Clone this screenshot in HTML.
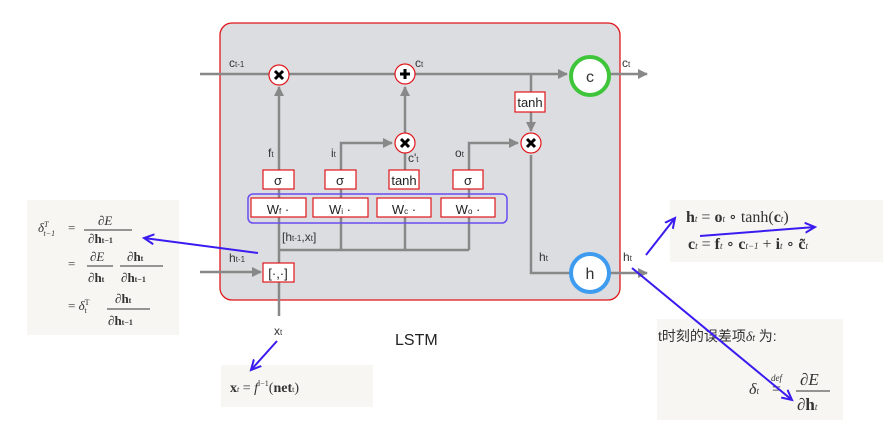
<!DOCTYPE html>
<html><head><meta charset="utf-8"><style>
html,body{margin:0;padding:0;background:#fff;}
svg{display:block;}
text{font-family:"Liberation Sans","Noto Sans CJK SC",sans-serif;}
.m text{font-family:"Liberation Serif","DejaVu Serif",serif;fill:#333;}
</style></head><body>
<svg width="896" height="443" viewBox="0 0 896 443" xmlns="http://www.w3.org/2000/svg">
<defs>
<marker id="ag" markerWidth="10" markerHeight="10" refX="9" refY="5" orient="auto" markerUnits="userSpaceOnUse"><path d="M0,0 L10,5 L0,10 z" fill="#888"/></marker>
<marker id="ap" markerWidth="12" markerHeight="12" refX="10" refY="6" orient="auto" markerUnits="userSpaceOnUse"><path d="M0,1 L10,6 L0,11" fill="none" stroke="#3a1cf0" stroke-width="2"/></marker>
</defs>
<rect x="27" y="200" width="152" height="135" fill="#f7f6f2"/>
<rect x="670" y="200" width="213" height="62" fill="#f7f6f2"/>
<rect x="657" y="319" width="186" height="101" fill="#f7f6f2"/>
<rect x="221" y="365" width="152" height="42" fill="#f7f6f2"/>
<rect x="220" y="23" width="400" height="277" rx="12" fill="#dcdde0" stroke="#e0161b" stroke-width="1.3"/>
<g stroke="#888" stroke-width="2.5" fill="none">
<line x1="200" y1="74" x2="567" y2="74" marker-end="url(#ag)"/>
<line x1="609" y1="74" x2="647" y2="74" marker-end="url(#ag)"/>
<line x1="531" y1="74" x2="531" y2="92"/>
<line x1="531" y1="112" x2="531" y2="131" marker-end="url(#ag)"/>
<line x1="279" y1="316" x2="279" y2="87" marker-end="url(#ag)"/>
<line x1="405" y1="170" x2="405" y2="87" marker-end="url(#ag)"/>
<polyline points="341,250 341,143 392,143" marker-end="url(#ag)"/>
<polyline points="469,250 469,143 518,143" marker-end="url(#ag)"/>
<polyline points="279,250 469,250"/>
<line x1="405" y1="250" x2="405" y2="217"/>
<line x1="200" y1="272" x2="261" y2="272" marker-end="url(#ag)"/>
<polyline points="531,155 531,273 572,273"/>
<line x1="609" y1="273" x2="647" y2="273" marker-end="url(#ag)"/>
</g>
<g fill="#fff" stroke="#e0161b" stroke-width="1.2">
<circle cx="279" cy="75" r="10"/><circle cx="405" cy="74" r="10"/>
<circle cx="405" cy="143" r="10"/><circle cx="531" cy="143" r="10"/>
</g>
<g stroke="#000" stroke-width="3">
<path d="M275,71 l8,8 M283,71 l-8,8"/>
<path d="M401,139 l8,8 M409,139 l-8,8"/>
<path d="M527,139 l8,8 M535,139 l-8,8"/>
<path d="M405,69 v10 M400,74 h10"/>
</g>
<circle cx="590" cy="76" r="19" fill="#fff" stroke="#3fc53a" stroke-width="4"/>
<circle cx="590" cy="273" r="19" fill="#fff" stroke="#3d9bf0" stroke-width="4"/>
<text x="590" y="82" font-size="16" text-anchor="middle" fill="#333">c</text>
<text x="590" y="279" font-size="16" text-anchor="middle" fill="#333">h</text>
<rect x="248" y="194" width="259" height="29" rx="5" fill="none" stroke="#6a4cf0" stroke-width="1.5"/>
<g fill="#fff" stroke="#e0161b" stroke-width="1.2">
<rect x="515" y="92" width="30" height="20"/>
<rect x="263" y="170" width="31" height="19"/><rect x="325" y="170" width="31" height="19"/>
<rect x="389" y="170" width="30" height="19"/><rect x="453" y="170" width="30" height="19"/>
<rect x="251" y="198" width="55" height="19"/><rect x="313" y="198" width="55" height="19"/>
<rect x="377" y="198" width="54" height="19"/><rect x="441" y="198" width="54" height="19"/>
<rect x="263" y="263" width="31" height="19"/>
</g>
<g font-size="13" fill="#222" text-anchor="middle">
<text x="530" y="107">tanh</text>
<text x="278" y="185">σ</text><text x="340" y="185">σ</text>
<text x="404" y="185">tanh</text><text x="468" y="185">σ</text>
<text x="278" y="214">W<tspan font-size="8">f</tspan> ·</text>
<text x="340" y="214">W<tspan font-size="8">i</tspan> ·</text>
<text x="404" y="214">W<tspan font-size="8">c</tspan> ·</text>
<text x="468" y="214">W<tspan font-size="8">o</tspan> ·</text>
<text x="278" y="278">[·,·]</text>
</g>
<g font-size="12" fill="#333">
<text x="229" y="67">c<tspan font-size="8">t-1</tspan></text>
<text x="415" y="67">c<tspan font-size="8">t</tspan></text>
<text x="622" y="67">c<tspan font-size="8">t</tspan></text>
<text x="268" y="157">f<tspan font-size="8">t</tspan></text>
<text x="331" y="157">i<tspan font-size="8">t</tspan></text>
<text x="408" y="162">c'<tspan font-size="8">t</tspan></text>
<text x="455" y="157">o<tspan font-size="8">t</tspan></text>
<text x="282" y="241">[h<tspan font-size="8">t-1</tspan>,x<tspan font-size="8">t</tspan>]</text>
<text x="229" y="262">h<tspan font-size="8">t-1</tspan></text>
<text x="539" y="261">h<tspan font-size="8">t</tspan></text>
<text x="623" y="261">h<tspan font-size="8">t</tspan></text>
<text x="274" y="335">x<tspan font-size="8">t</tspan></text>
</g>
<text x="395" y="345" font-size="16" fill="#222">LSTM</text>
<g class="m" font-size="13">
<text x="38" y="232" font-style="italic">δ<tspan font-size="8" dy="-5">T</tspan><tspan font-size="8" dx="-5" dy="9">t−1</tspan></text>
<text x="68" y="232">=</text>
<text x="98" y="225" font-style="italic">∂E</text><line x1="84" y1="230" x2="132" y2="230" stroke="#333"/>
<text x="88" y="243">∂<tspan font-weight="bold">h</tspan><tspan font-size="8" font-weight="bold">t−1</tspan></text>
<text x="68" y="268">=</text>
<text x="90" y="261" font-style="italic">∂E</text><line x1="87" y1="266" x2="113" y2="266" stroke="#333"/>
<text x="88" y="282">∂<tspan font-weight="bold">h</tspan><tspan font-size="8" font-weight="bold">t</tspan></text>
<text x="127" y="261">∂<tspan font-weight="bold">h</tspan><tspan font-size="8" font-weight="bold">t</tspan></text><line x1="120" y1="266" x2="163" y2="266" stroke="#333"/>
<text x="121" y="282">∂<tspan font-weight="bold">h</tspan><tspan font-size="8" font-weight="bold">t−1</tspan></text>
<text x="68" y="310">= <tspan font-style="italic">δ</tspan><tspan font-size="8" dy="-5">T</tspan><tspan font-size="8" dx="-5" dy="8">t</tspan></text>
<text x="115" y="303">∂<tspan font-weight="bold">h</tspan><tspan font-size="8" font-weight="bold">t</tspan></text><line x1="107" y1="309" x2="150" y2="309" stroke="#333"/>
<text x="108" y="325">∂<tspan font-weight="bold">h</tspan><tspan font-size="8" font-weight="bold">t−1</tspan></text>
<text x="686" y="222" font-size="16"><tspan font-weight="bold">h</tspan><tspan font-size="9" font-style="italic">t</tspan> = <tspan font-weight="bold">o</tspan><tspan font-size="9" font-style="italic">t</tspan> ∘ tanh(<tspan font-weight="bold">c</tspan><tspan font-size="9" font-style="italic">t</tspan>)</text>
<text x="688" y="249" font-size="16"><tspan font-weight="bold">c</tspan><tspan font-size="9" font-style="italic">t</tspan> = <tspan font-weight="bold">f</tspan><tspan font-size="9" font-style="italic">t</tspan> ∘ <tspan font-weight="bold">c</tspan><tspan font-size="9" font-style="italic">t−1</tspan> + <tspan font-weight="bold">i</tspan><tspan font-size="9" font-style="italic">t</tspan> ∘ <tspan font-weight="bold">c̃</tspan><tspan font-size="9" font-style="italic">t</tspan></text>
<text x="230" y="392" font-size="14"><tspan font-weight="bold">x</tspan><tspan font-size="8" font-style="italic">t</tspan> = <tspan font-style="italic">f</tspan><tspan font-size="8" dy="-6">l−1</tspan><tspan dy="6">(</tspan><tspan font-weight="bold">net</tspan><tspan font-size="8">t</tspan>)</text>
<text x="749" y="394" font-size="16" font-style="italic">δ<tspan font-size="9">t</tspan></text>
<text x="772" y="394" font-size="16">=</text><text x="771" y="381" font-size="9" font-style="italic">def</text>
<text x="800" y="385" font-size="17" font-style="italic">∂E</text><line x1="796" y1="391" x2="830" y2="391" stroke="#333"/>
<text x="797" y="410" font-size="17">∂<tspan font-weight="bold">h</tspan><tspan font-size="9" font-style="italic">t</tspan></text>
</g>
<text x="658" y="341" font-size="14" fill="#333">t时刻的误差项<tspan font-family="Liberation Serif,serif" font-style="italic">δ</tspan><tspan font-size="9" font-style="italic">t</tspan> 为:</text>
<g stroke="#3a1cf0" stroke-width="2" fill="none">
<line x1="258" y1="253" x2="144" y2="238" marker-end="url(#ap)"/>
<line x1="646" y1="255" x2="675" y2="218" marker-end="url(#ap)"/>
<line x1="700" y1="236" x2="815" y2="227" marker-end="url(#ap)"/>
<line x1="632" y1="268" x2="792" y2="400" marker-end="url(#ap)"/>
<line x1="277" y1="341" x2="251" y2="370" marker-end="url(#ap)"/>
</g>
</svg>
</body></html>
